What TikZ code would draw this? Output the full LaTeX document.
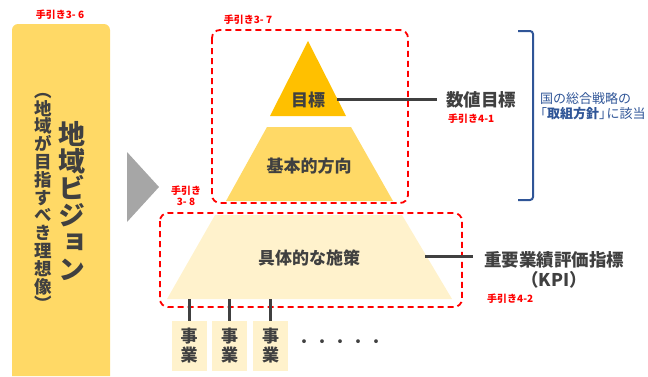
\documentclass[tikz,border=0pt]{standalone}
\usepackage{fontspec}
\setmainfont{Noto Sans CJK JP}
\newfontfamily\vfont[RawFeature=+vert]{Noto Sans CJK JP}
\definecolor{gold}{HTML}{FFC000}
\definecolor{lgold}{HTML}{FFD966}
\definecolor{cream}{HTML}{FFF2CC}
\definecolor{txt}{HTML}{404040}
\definecolor{arrowgray}{HTML}{A6A6A6}
\definecolor{bblue}{HTML}{2F5597}
\tikzset{
  guide/.style={text=red, font=\bfseries\fontsize{10}{11}\selectfont, inner sep=0, align=center},
  dashbox/.style={draw=red, line width=1.8pt, dash pattern=on 6pt off 4pt, rounded corners=8pt},
  lbl/.style={text=txt, font=\bfseries\fontsize{17}{18}\selectfont, inner sep=0},
  conn/.style={draw=txt, line width=3pt},
  jigyo/.style={fill=cream, minimum width=35pt, minimum height=50pt, inner sep=0, text=txt, align=center, font=\bfseries\fontsize{17}{19}\selectfont},
}
\begin{document}
\begin{tikzpicture}[x=1pt,y=-1pt]
\useasboundingbox (0,0) rectangle (648,376);
% left vision box
\fill[lgold] (12,376) {[rounded corners=6pt] -- (12,24) -- (110,24)} -- (110,376) -- cycle;
\node[guide] (g36) at (60,15) {手引き3- 6};
\node[text=txt, font=\vfont\bfseries\fontsize{27}{27}\selectfont, align=center, inner sep=0] (vision) at (72,201) {地\\域\\ビ\\ジ\\ョ\\ン};
\node[text=txt, font=\vfont\bfseries\fontsize{17.5}{17.8}\selectfont, align=center, inner sep=0] (ideal) at (43,202) {（\\地\\域\\が\\目\\指\\す\\べ\\き\\理\\想\\像\\）};
% gray arrow
\fill[arrowgray] (127,152) -- (159,187) -- (127,222) -- cycle;
% top dashed box
\draw[dashbox] (212,30) rectangle (408,203);
\node[guide] (g37) at (248,20) {手引き3- 7};
% pyramid top
\fill[gold] (308,41) -- (346,116) -- (270,116) -- cycle;
\node[lbl] (mokuhyo) at (308,100) {目標};
\fill[lgold] (267,127) -- (351,127) -- (393,201) -- (226,201) -- cycle;
\node[lbl] (kihon) at (309,166) {基本的方向};
% bottom dashed box
\draw[dashbox] (160,213) rectangle (462,307);
\node[guide] (g38) at (186,196) {手引き\\3- 8};
\fill[cream] (215,215) -- (402,215) -- (452,299) -- (167,299) -- cycle;
\node[lbl] (shisaku) at (309,258) {具体的な施策};
% right labels
\node[lbl, font=\bfseries\fontsize{17.5}{18}\selectfont, anchor=west] (suchi) at (446,100) {数値目標};
\node[guide, anchor=west] (g41) at (448,119) {手引き4-1};
\node[lbl, font=\bfseries\fontsize{17.5}{20}\selectfont, align=center] (kpi) at (554,270) {重要業績評価指標\\（KPI）};
\node[guide, anchor=west] (g42) at (487,299) {手引き4-2};
% connectors
\coordinate (c1) at (337,99.5);
\coordinate (c1e) at (437,99.5);
\draw[conn] (c1) -- (c1e);
\coordinate (c2) at (425,256);
\coordinate (c3) at (473,256);
\draw[conn] (c2) -- (c3);
% bracket
\draw[bblue, line width=2pt, rounded corners=3pt] (518,31) -- (533,31) -- (533,200) -- (518,200);
\node[text=bblue, font=\fontsize{13}{15.5}\selectfont, align=left, anchor=west, inner sep=0] (kuni) at (540,106) {国の総合戦略の\\\hspace*{-6pt}「\textbf{取組方針}」\hspace*{-5.5pt}に該当};
% jigyo boxes
\node[jigyo] (j1) at (189,346) {事\\業};
\node[jigyo] (j2) at (229.5,346) {事\\業};
\node[jigyo] (j3) at (270.5,346) {事\\業};
\coordinate (t1) at (189,299);
\coordinate (t2) at (229.5,299);
\coordinate (t3) at (270.5,299);
\draw[conn] (t1) -- (j1.north);
\draw[conn] (t2) -- (j2.north);
\draw[conn] (t3) -- (j3.north);
\node[text=txt, font=\fontsize{18}{18}\selectfont, inner sep=0] (dots) at (340,344) {・・・・・};
\end{tikzpicture}
\end{document}
